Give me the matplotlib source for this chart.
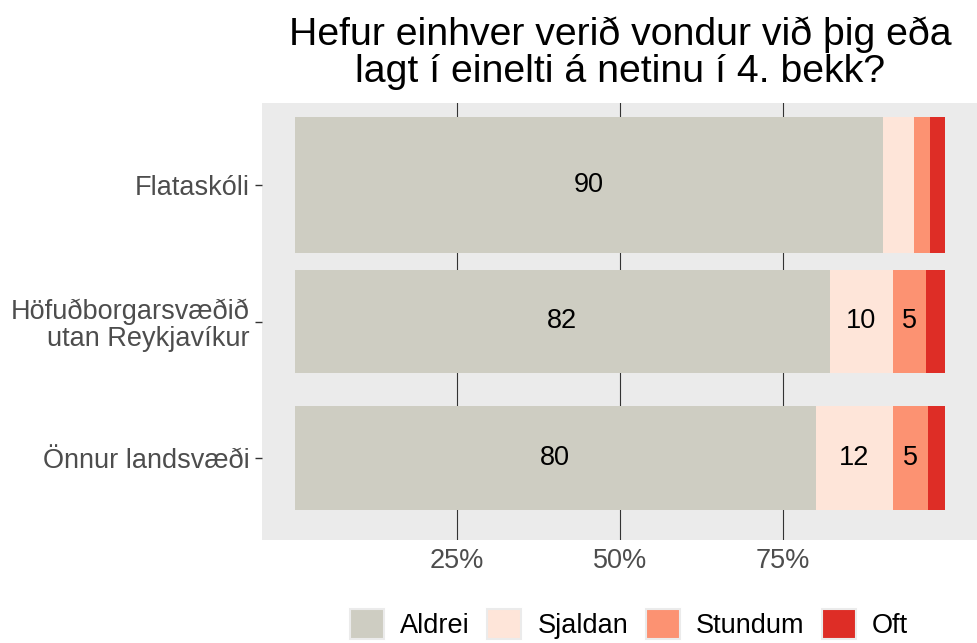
import matplotlib
matplotlib.use("Agg")
import matplotlib.pyplot as plt
from matplotlib.patches import Patch
from matplotlib.ticker import FixedLocator

plt.rcParams['font.family'] = ['Liberation Sans', 'DejaVu Sans']

# gögn
hopar = ["Flataskóli", "Höfuðborgarsvæðið\nutan Reykjavíkur", "Önnur landsvæði"]
flokkar = ["Aldrei", "Sjaldan", "Stundum", "Oft"]
aldrei = [90.4, 82.2, 80.1]
sjaldan = [4.7, 9.7, 11.8]
stundum = [2.5, 5.1, 5.4]
oft = [2.4, 3.0, 2.7]
breidd = [1.0, 0.76, 0.76]
x_ticks = [25, 50, 75]
x_tick_labels = ["25%", "50%", "75%"]

litir = ["#CECDC2", "#FEE5D9", "#FC9272", "#DE2D26"]

fig = plt.figure(figsize=(9.78, 6.43), dpi=100)
ax = fig.add_axes([262 / 978, 1 - 540 / 643, 716 / 978, 437 / 643])
ax.set_facecolor("#EBEBEB")

y = list(range(len(hopar)))
vinstri = [0.0] * len(hopar)
for flokkur, gildi, litur in zip(flokkar, [aldrei, sjaldan, stundum, oft], litir):
    ax.barh(y, gildi, left=vinstri, height=breidd, color=litur, label=flokkur, zorder=2)
    # aðeins merkja hluta sem eru 5% eða meira
    for i, v in enumerate(gildi):
        if v >= 5:
            ax.text(vinstri[i] + v / 2, y[i], f"{round(v)}", ha="center", va="center",
                    fontsize=19.5, color="black", zorder=3)
    vinstri = [a + b for a, b in zip(vinstri, gildi)]

ax.set_xlim(-5, 105)
ax.set_ylim(len(hopar) - 0.4, -0.6)
ax.xaxis.set_major_locator(FixedLocator(x_ticks))
ax.set_xticklabels(x_tick_labels)
ax.set_yticks(y)
ax.set_yticklabels(hopar, ha="right", linespacing=1.05)
ax.grid(axis="x", color="#333333", linewidth=0.8, zorder=1)
ax.set_axisbelow(True)
for s in ax.spines.values():
    s.set_visible(False)
ax.tick_params(axis="x", length=0, labelsize=19.5, labelcolor="#4D4D4D", pad=6)
ax.tick_params(axis="y", length=5, width=1, color="#333333", labelsize=19.5,
               labelcolor="#4D4D4D", pad=4)

ax.set_title("Hefur einhver verið vondur við þig eða\nlagt í einelti á netinu í 4. bekk?",
             fontsize=28.3, color="black", pad=15, linespacing=1.05)

handles = [Patch(facecolor=c, edgecolor="#EBEBEB", linewidth=1.5) for c in litir]
fig.legend(handles, flokkar, loc="center", bbox_to_anchor=(629 / 978, 1 - 624 / 643),
           ncol=4, frameon=False, fontsize=19.5, handlelength=1.25, handleheight=1.3,
           handletextpad=0.6, columnspacing=0.65, borderaxespad=0, borderpad=0)

fig.savefig("out.png", dpi=100)
